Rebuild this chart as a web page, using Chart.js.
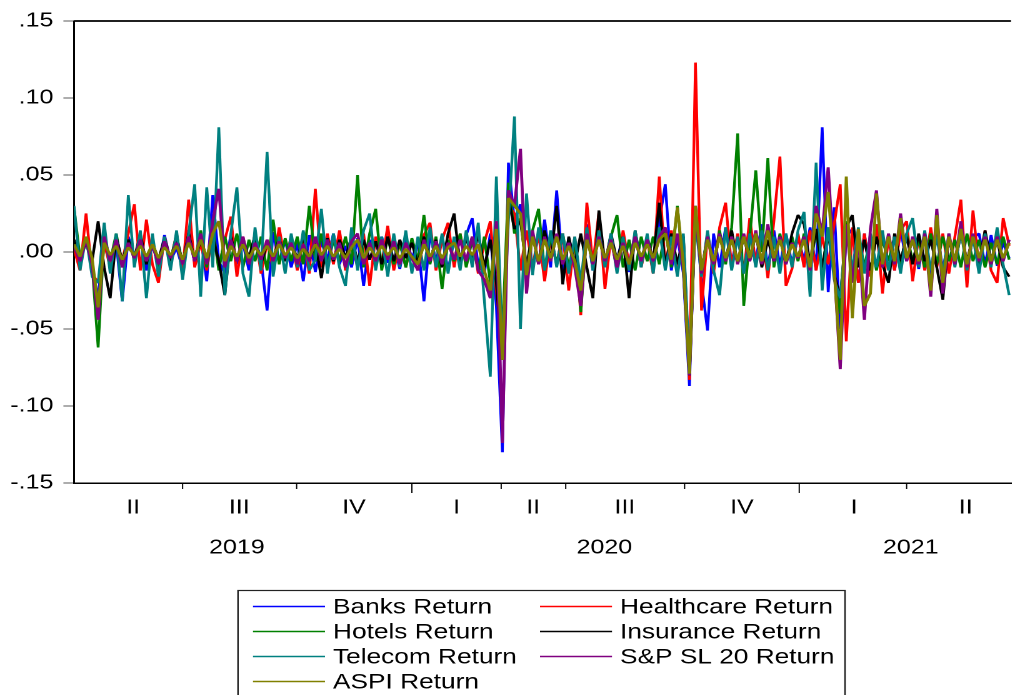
<!DOCTYPE html>
<html>
<head>
<meta charset="utf-8">
<script src="https://cdn.jsdelivr.net/npm/chart.js@4/dist/chart.umd.min.js"></script>
<style>
html, body { margin: 0; padding: 0; background: #fff; overflow: hidden; }
#wrap { position: absolute; left: 0; top: 0; width: 810px; height: 695px; transform: scaleX(1.25); transform-origin: 0 0; }
</style>
</head>
<body>
<div id="wrap"><canvas id="chart"></canvas></div>
<script>
// daily returns, sampled along the trading-day axis (Q2 2019 .. Q2 2021)
const bankReturns = [
	.004,-.006,.008,-.010,-.030,.012,-.008,.006,-.032,.010,-.004,.009,
	-.012,.005,-.009,.011,-.006,.003,-.011,.014,-.007,.010,-.019,.037,
	-.006,-.014,.012,-.008,.006,-.012,.009,-.005,-.038,.013,-.007,.008,
	-.010,.006,-.019,.011,-.013,.007,-.005,.012,-.008,.004,-.010,.009,
	-.022,.008,-.006,.010,-.007,.005,-.011,.009,-.004,.006,-.032,.012,
	-.006,.010,-.012,.008,-.005,.011,.022,-.009,-.014,.012,-.035,-.130,
	.058,.020,.031,-.015,.012,-.008,.021,-.010,.040,-.012,.009,-.006,
	-.030,.018,-.012,.014,-.008,.010,-.006,.011,-.013,.007,-.005,.009,
	-.008,.020,.044,-.012,.010,-.014,-.087,.030,-.020,-.051,.012,-.010,
	.016,-.007,.011,-.012,.013,-.006,.018,-.010,.014,-.009,.012,-.008,
	.010,-.006,.016,-.012,.081,-.026,.029,-.050,.010,.015,-.020,.012,
	-.015,.018,-.010,.008,-.012,.014,-.006,.009,-.011,.012,-.015,.016,
	-.012,.010,-.008,.015,-.010,.009,.012,-.008,.011,-.009,.006,-.004
];
const healthcareReturns = [
	.002,-.012,.025,-.014,-.020,.006,-.010,.008,-.006,.012,.031,-.012,
	.021,-.008,-.020,.010,-.006,.012,-.014,.034,-.010,.006,-.012,.014,
	-.010,.008,.023,-.016,.010,-.008,.012,-.014,.006,-.010,.016,-.006,
	.010,-.012,.008,-.014,.041,-.010,.012,-.008,.014,-.012,.008,-.010,
	.012,-.022,.010,-.008,.017,-.012,.006,-.010,.008,-.006,.011,.019,
	-.012,.008,.019,-.010,.012,-.008,.010,-.014,.006,.020,-.025,-.060,
	.030,.025,-.012,.014,-.010,.012,-.019,.010,-.008,.012,-.025,.010,
	-.041,.032,-.008,.026,-.024,.010,-.012,.014,-.008,.012,-.010,.008,
	-.014,.049,-.010,.014,-.012,.010,-.083,.123,-.038,.012,-.014,.016,
	.032,-.010,.012,-.014,.022,-.008,.014,-.017,.020,.062,-.022,-.011,
	.012,-.010,.014,-.012,.010,-.008,.018,.044,-.058,.016,-.020,.012,
	-.016,.018,-.027,.010,-.012,.014,.020,-.019,.010,-.012,.016,-.010,
	.012,-.014,.010,.034,-.023,.027,-.010,.014,-.012,-.020,.022,.004
];
const hotelReturns = [
	.029,-.004,.006,-.008,-.062,.010,-.006,.012,-.010,.008,-.005,.010,
	-.008,.006,-.010,.009,-.005,.011,-.008,.012,-.006,.014,-.010,.016,
	-.012,.010,-.006,.012,-.010,.008,-.006,.010,-.012,.021,-.008,.009,
	-.006,.010,-.008,.030,-.006,.012,-.010,.008,-.006,.010,-.008,.050,
	-.010,.012,.028,-.012,.010,-.008,.006,-.010,.009,-.006,.024,-.008,
	.010,-.024,.008,-.006,.012,-.010,.008,-.012,.010,-.020,.015,-.055,
	.045,.012,.022,-.010,.014,.028,-.012,.010,-.008,.012,-.010,.008,
	-.039,.014,-.010,.012,-.008,.010,.024,-.010,.008,-.012,.010,-.006,
	.010,-.008,.014,-.010,.030,-.012,-.080,.028,-.015,.012,-.010,.014,
	-.008,.016,.077,-.035,.010,.053,.000,.061,-.010,.012,-.008,.010,
	-.006,.012,-.010,.014,-.012,.016,-.014,-.040,.020,-.015,.012,-.010,
	.010,-.012,.008,-.006,.010,-.008,.012,-.006,.008,-.010,.012,-.008,
	.010,-.006,.008,-.010,.012,-.006,.008,-.010,.006,-.008,.010,-.005
];
const insuranceReturns = [
	.008,-.004,.006,-.006,.020,-.010,-.030,.010,-.006,.008,-.004,.012,
	-.008,.006,-.005,.009,-.006,.010,-.008,.012,-.006,.008,-.004,.010,
	-.006,-.028,.010,-.006,.008,-.004,.011,-.008,.006,-.005,.009,-.006,
	.008,-.005,.010,-.006,.007,-.017,.009,-.006,.008,-.004,.010,-.006,
	.008,-.005,.007,-.008,.010,-.006,.008,-.004,.006,-.008,.010,-.006,
	.008,-.010,.012,.025,-.008,.010,-.006,.012,-.010,.008,-.020,-.070,
	.035,.015,.020,-.010,.012,-.008,.014,-.006,.030,-.021,.010,-.008,
	.012,-.010,-.030,.027,-.008,.012,-.006,.010,-.030,.014,-.008,.010,
	-.006,.032,-.010,.012,-.008,.010,-.080,.025,-.012,.010,-.008,.012,
	-.006,.014,-.008,.010,-.006,.012,-.010,.008,-.006,.010,-.008,.012,
	.024,.018,-.008,.015,-.010,.012,-.014,-.030,.016,.024,-.010,.008,
	-.012,.010,-.008,-.020,.012,-.006,.010,-.008,.012,-.006,.008,-.010,
	-.031,.010,-.008,.012,-.006,.010,-.008,.014,-.006,.008,-.010,-.016
];
const telecomReturns = [
	.030,-.012,.010,-.016,-.020,.019,-.014,.012,-.032,.037,-.010,.014,
	-.030,.012,-.016,.010,-.012,.014,-.018,.012,.044,-.029,.042,-.010,
	.081,-.028,.012,.042,-.014,-.029,.016,-.012,.065,-.016,.010,-.014,
	.012,-.010,.014,-.012,-.005,.028,-.014,.012,-.010,-.022,.016,-.012,
	.014,.025,-.012,.010,-.016,.012,-.010,.014,-.014,.010,-.012,.016,
	-.010,.012,-.014,.010,-.012,.014,-.010,.019,-.031,-.081,.049,-.064,
	.020,.088,-.050,.038,-.015,.016,-.012,.014,-.010,.012,-.014,.010,
	-.020,.016,-.012,.014,-.010,.012,-.014,.010,-.012,.014,-.010,.012,
	-.014,.016,-.012,.010,-.016,.012,-.075,.020,-.016,.014,-.012,-.028,
	.016,-.012,.010,-.014,.012,-.010,.014,-.012,.010,-.014,.012,-.010,
	.014,.026,-.029,.058,-.025,.016,-.018,-.030,.014,-.012,.016,-.014,
	.012,-.010,.014,-.012,.010,-.014,.012,.022,-.010,.014,-.012,.010,
	-.014,.012,-.010,.014,-.012,.010,-.014,.012,-.010,.016,-.008,-.028
];
const sp20Returns = [
	.004,-.006,.008,-.008,-.044,.010,-.006,.008,-.010,.006,-.004,.008,
	-.006,.005,-.008,.007,-.004,.006,-.008,.010,-.006,.012,-.008,.020,
	.041,-.010,.008,-.006,.010,-.008,.006,-.005,.008,-.006,.007,-.004,
	.006,-.008,.005,-.006,.010,-.006,.008,-.005,.006,-.010,.007,.012,
	-.008,.006,-.006,.008,-.005,.007,-.008,.006,-.004,-.012,.008,-.006,
	.007,-.008,.006,-.005,.008,-.006,.010,-.012,-.018,-.030,.020,-.124,
	.040,.030,.067,-.027,.014,-.008,.010,-.006,.012,-.008,.006,-.010,
	-.035,.012,-.008,.010,-.006,.008,-.010,.006,-.008,.010,-.006,.008,
	-.006,.010,.016,-.008,.012,-.010,-.080,.026,-.014,.010,-.008,.012,
	-.006,.010,-.008,.012,-.006,.014,-.008,.018,-.006,.010,-.008,.006,
	-.004,.010,-.012,.030,.012,.055,-.010,-.076,.018,-.020,.010,-.044,
	.015,.040,-.010,.012,-.008,.025,-.006,.010,-.008,.012,-.029,.028,
	-.027,.012,-.008,.020,-.010,.012,-.006,.010,-.008,.010,-.006,.008
];
const aspiReturns = [
	.005,-.003,.010,-.004,-.036,.006,-.002,.004,-.005,.003,-.002,.004,
	-.003,.005,-.004,.003,-.002,.004,-.005,.006,-.003,.008,-.004,.012,
	.020,-.006,.004,-.003,.005,-.004,.003,-.002,.004,-.003,.005,-.002,
	.003,-.004,.002,-.003,.005,-.002,.004,-.003,.002,-.004,.003,.008,
	-.004,.003,-.003,.004,-.002,.003,-.004,.002,-.003,-.008,.005,-.003,
	.004,-.004,.003,.006,-.003,.004,-.002,.005,-.012,-.025,.015,-.070,
	.035,.030,.025,-.015,.010,-.006,.008,-.004,.010,-.005,.004,-.006,
	-.025,.008,-.006,.008,-.004,.006,-.005,.004,-.008,.006,-.003,.005,
	-.004,.008,.012,-.005,.029,-.008,-.079,.030,-.012,.008,-.006,.010,
	-.004,.008,-.006,.010,-.004,.012,-.006,.014,-.004,.008,-.006,.005,
	-.003,.008,-.010,.025,.010,.039,-.012,-.070,.049,-.043,.015,-.035,
	-.027,.038,-.008,.010,-.006,.022,-.004,.008,-.006,.010,-.025,.024,
	-.020,.010,-.006,.015,-.008,.010,-.004,.008,-.006,.008,-.004,.006
];

const seriesNames = ['Banks Return', 'Healthcare Return', 'Hotels Return', 'Insurance Return',
	'Telecom Return', 'S&P SL 20 Return', 'ASPI Return'];
const seriesColors = ['#0000ff', '#ff0000', '#008000', '#000000', '#008080', '#800080', '#808000'];
const seriesData = [bankReturns, healthcareReturns, hotelReturns, insuranceReturns,
	telecomReturns, sp20Returns, aspiReturns];

// x axis: sample index, quarter boundaries and labels in the same units
const days = bankReturns.map((v, i) => i);
const quarterEdges = [18.0, 36.9, 56.0, 70.8, 81.5, 101.2, 120.2, 138.0];
const yearEdges = [56.0, 120.2];
const quarterNames = ['II', 'III', 'IV', 'I', 'II', 'III', 'IV', 'I', 'II'];
const quarterCenters = [9.8, 27.4, 46.4, 63.4, 76.1, 91.3, 110.7, 129.3, 147.8];
const yearNames = ['2019', '2020', '2021'];
const yearCenters = [27.0, 87.9, 138.7];
const yTicks = [-0.15, -0.10, -0.05, 0, 0.05, 0.10, 0.15];

const FONT = '"Liberation Sans", Arial, sans-serif';

function fmtTick(v) {
	let s = Math.abs(v).toFixed(2).replace(/^0/, '');
	return (v < -1e-9 ? '-' : '') + s;
}

const axisDecor = {
	id: 'axisDecor',
	afterDraw(chart) {
		const { ctx, chartArea, scales } = chart;
		const xs = scales.x;
		ctx.save();

		// top frame line
		ctx.strokeStyle = '#000';
		ctx.lineWidth = 1.8;
		ctx.beginPath();
		ctx.moveTo(chartArea.left, chartArea.top);
		ctx.lineTo(chartArea.right, chartArea.top);
		ctx.stroke();

		// quarter tick marks, longer at year change
		ctx.lineWidth = 1;
		quarterEdges.forEach(function(e) {
			let x = xs.getPixelForValue(e);
			let len = yearEdges.includes(e) ? 10 : 6;
			ctx.beginPath();
			ctx.moveTo(x, chartArea.bottom);
			ctx.lineTo(x, chartArea.bottom + len);
			ctx.stroke();
		});

		ctx.fillStyle = '#000';
		ctx.font = '20px ' + FONT;
		ctx.textAlign = 'center';
		ctx.textBaseline = 'middle';
		quarterNames.forEach(function(q, i) {
			ctx.fillText(q, xs.getPixelForValue(quarterCenters[i]), chartArea.bottom + 25);
		});
		yearNames.forEach(function(y, i) {
			ctx.fillText(y, xs.getPixelForValue(yearCenters[i]), chartArea.bottom + 65);
		});

		// legend box
		const boxLeft = 190.4, boxTop = 590.5, boxW = 485.6;
		ctx.lineWidth = 1.2;
		ctx.strokeStyle = '#222';
		ctx.strokeRect(boxLeft, boxTop, boxW, 120);
		ctx.font = '21px ' + FONT;
		ctx.textAlign = 'left';
		seriesNames.forEach(function(name, i) {
			let col = i % 2, row = Math.floor(i / 2);
			let x0 = boxLeft + 12 + col * 229.6;
			let y = boxTop + 16 + row * 25;
			ctx.strokeStyle = seriesColors[i];
			ctx.lineWidth = 1.6;
			ctx.beginPath();
			ctx.moveTo(x0, y);
			ctx.lineTo(x0 + 57.6, y);
			ctx.stroke();
			ctx.fillStyle = '#000';
			ctx.fillText(name, x0 + 64, y + 1);
		});
		ctx.restore();
	}
};

new Chart(document.getElementById('chart'), {
	type: 'line',
	data: {
		labels: days,
		datasets: seriesData.map(function(d, i) {
			return {
				label: seriesNames[i],
				data: d,
				borderColor: seriesColors[i],
				backgroundColor: seriesColors[i],
				borderWidth: i >= 5 ? 2.4 : 2.2,
				borderJoinStyle: 'bevel',
				pointRadius: 0,
				tension: 0,
				order: seriesData.length - 1 - i,
			};
		}),
	},
	options: {
		responsive: true,
		maintainAspectRatio: false,
		animation: false,
		devicePixelRatio: 2,
		layout: { padding: { top: 21, right: 0, bottom: 0, left: 0 } },
		plugins: { legend: { display: false }, tooltip: { enabled: false } },
		scales: {
			x: {
				type: 'linear',
				min: 0,
				max: 155.3,
				grid: { display: false },
				ticks: { display: false },
				border: { display: true, color: '#000', width: 1.5 },
				afterFit: function(scale) { scale.height = 212; },
			},
			y: {
				min: -0.15,
				max: 0.15,
				afterBuildTicks: function(scale) {
					scale.ticks = yTicks.map(v => ({ value: v }));
				},
				ticks: {
					callback: fmtTick,
					color: '#000',
					padding: 8,
					font: { family: FONT, size: 20 },
				},
				grid: { drawOnChartArea: false, tickLength: 8.5, tickColor: '#777', tickWidth: 1.2 },
				border: { display: true, color: '#000', width: 1.5 },
				afterFit: function(scale) { scale.width = 59.2; },
			},
		},
	},
	plugins: [axisDecor],
});
</script>
</body>
</html>
